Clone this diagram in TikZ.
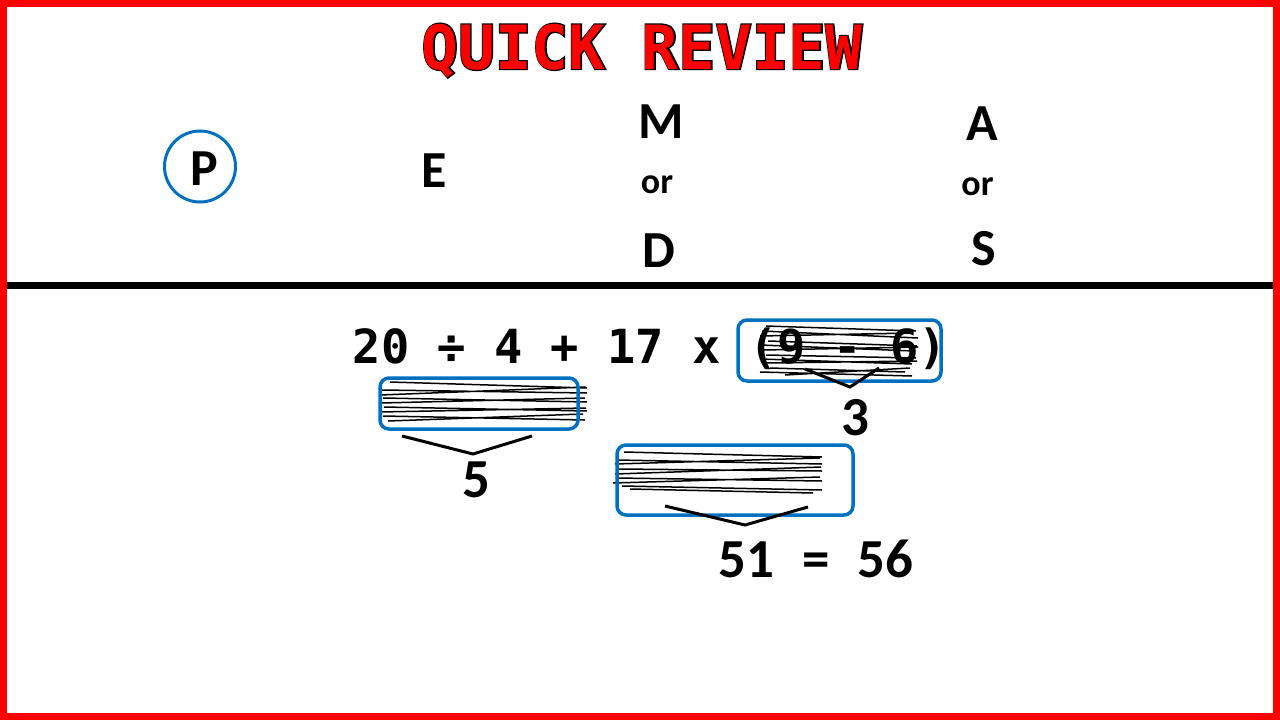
\documentclass[tikz,border=0pt]{standalone}
\usepackage{fontspec}
\newfontfamily\monofnt{DejaVu Sans Mono}
\newfontfamily\monoout{DejaVu Sans Mono}[BoldFeatures={FakeBold=4}]
\newfontfamily\calfnt{Carlito}
\definecolor{pblue}{RGB}{0,112,192}
\definecolor{bred}{RGB}{255,0,0}
\tikzset{
  lbl/.style={inner sep=0, anchor=base, font=\calfnt\bfseries\fontsize{52}{52}\selectfont},
  orlbl/.style={inner sep=0, anchor=base, font=\calfnt\bfseries\fontsize{36}{36}\selectfont},
  eqn/.style={inner sep=0, anchor=base, font=\monofnt\bfseries\fontsize{47}{47}\selectfont},
  res/.style={inner sep=0, anchor=base, font=\calfnt\bfseries\fontsize{55}{55}\selectfont},
  ttl/.style={inner sep=0, anchor=base, font=\monofnt\bfseries\fontsize{61}{61}\selectfont},
  ttlback/.style={inner sep=0, anchor=base, font=\monoout\bfseries\fontsize{61}{61}\selectfont},
  hl/.style={draw=pblue, line width=3.5, rounded corners=9, inner sep=0},
  scrib/.style={line width=1.5, black},
  chev/.style={line width=3, black, line join=miter},
}
\begin{document}
\begin{tikzpicture}[x=1pt,y=-1pt]
\useasboundingbox (0,0) rectangle (1280,720);
\fill[white] (0,0) rectangle (1280,720);
% title with outline
\node (titleback) [ttlback, text=black] at (642,69) {QUICK REVIEW};
\node (title) [ttl, text=bred] at (642,69) {QUICK REVIEW};
% header
\node (pcirc) [draw=pblue, line width=3, circle, minimum size=71, inner sep=0] at (200,166.5) {};
\node (P) [lbl] at (204.5,185) {P};
\node (E) [lbl] at (434,187) {E};
\node (M) [lbl] at (661,138) {M};
\node (or1) [orlbl] at (657,193) {or};
\node (D) [lbl] at (658.5,267) {D};
\node (A) [lbl] at (982.5,140) {A};
\node (or2) [orlbl] at (977.5,195) {or};
\node (S) [lbl] at (983.5,265) {S};
% divider
\coordinate (dl) at (7,285);
\coordinate (dr) at (1273,285);
\draw[line width=7, black] (dl) -- (dr);
% equation
\node (eq) [eqn] at (650,363) {20 ÷ 4 + 17 x (9 - 6)};
% scribbles box1
\draw[scrib] (766,326)--(916,331) (762,331)--(918,338) (760,336)--(912,333)
  (768,341)--(917,346) (760,345)--(914,351) (763,350)--(918,347)
  (766,355)--(916,358) (760,359)--(912,364) (764,363)--(917,361)
  (770,368)--(905,372) (760,372)--(912,376) (785,375)--(910,368);
% scribbles box2
\draw[scrib] (390,382)--(587,388) (382,390)--(587,393) (380,395)--(586,387)
  (383,398)--(587,402) (381,403)--(585,398) (384,407)--(587,411)
  (380,412)--(586,408) (383,416)--(585,420) (388,421)--(583,414);
% scribbles box3
\draw[scrib] (624,452)--(822,457) (617,460)--(822,464) (615,464)--(820,458)
  (618,469)--(822,471) (615,474)--(821,467) (616,478)--(822,481)
  (613,483)--(820,477) (622,486)--(822,490) (630,489)--(813,493);
% highlight boxes
\node (box1) [hl, minimum width=203, minimum height=61] at (839.5,350.5) {};
\node (box2) [hl, minimum width=198, minimum height=51] at (479,403.5) {};
\node (box3) [hl, minimum width=236, minimum height=70] at (735,480) {};
% chevrons
\draw[chev] (805,369) -- (850,387) -- (879,368);
\draw[chev] (402,436) -- (473,454) -- (532,436);
\draw[chev] (665,506) -- (745,525) -- (808,507);
% results
\node (r3) [res] at (855,435) {3};
\node (r5) [res] at (476,497) {5};
\node (r56) [res] at (816,577) {51\hspace{28pt}=\hspace{28pt}56};
% border
\draw[bred, line width=7] (3.5,3.5) rectangle (1276.5,716.5);
\end{tikzpicture}
\end{document}
